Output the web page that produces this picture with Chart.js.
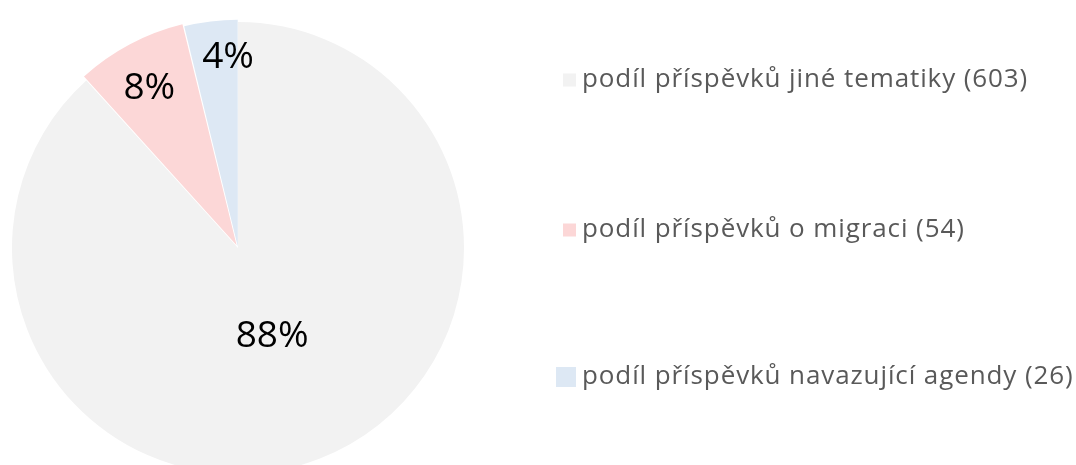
<!DOCTYPE html>
<html>
<head>
<meta charset="utf-8">
<script src="https://cdn.jsdelivr.net/npm/chart.js@4.4.1/dist/chart.umd.min.js"></script>
<style>
  html, body { margin: 0; padding: 0; background: #fff; overflow: hidden; }
  .chart-wrap { position: relative; width: 1076px; height: 465px; }
</style>
</head>
<body>
<div class="chart-wrap">
  <canvas id="myChart"></canvas>
</div>
<script>
// data
const labels = [
  'podíl příspěvků jiné tematiky (603)',
  'podíl příspěvků o migraci (54)',
  'podíl příspěvků navazující agendy (26)'
];
const counts = [603, 54, 26];
const sliceColors = ['#f2f2f2', '#fcd7d7', '#dde8f4'];
const explode = [0, 12, 5];

// percentage labels drawn inside each slice
const pctLabels = {
  id: 'pctLabels',
  afterDatasetsDraw(chart, args, opts) {
    const { ctx } = chart;
    const meta = chart.getDatasetMeta(0);
    const total = counts.reduce((a, b) => a + b, 0);
    ctx.save();
    ctx.font = opts.font;
    ctx.fillStyle = opts.color;
    ctx.textAlign = 'center';
    ctx.textBaseline = 'middle';
    meta.data.forEach((arc, i) => {
      const p = arc.getProps(['x', 'y', 'startAngle', 'endAngle', 'outerRadius'], true);
      const mid = (p.startAngle + p.endAngle) / 2;
      const r = p.outerRadius * opts.radial[i];
      const x = p.x + Math.cos(mid) * r + opts.nudgeX[i];
      const y = p.y + Math.sin(mid) * r;
      ctx.fillText(Math.round(counts[i] / total * 100) + '%', x, y);
    });
    ctx.restore();
  }
};

// legend on the right, spaced like the original
const sideLegend = {
  id: 'sideLegend',
  afterDraw(chart, args, opts) {
    const { ctx } = chart;
    const ds = chart.data.datasets[0];
    ctx.save();
    ctx.font = opts.font;
    ctx.letterSpacing = opts.spacing;
    ctx.textBaseline = 'middle';
    ctx.textAlign = 'left';
    chart.data.labels.forEach((lab, i) => {
      const y = opts.rows[i];
      const s = opts.boxes[i];
      ctx.fillStyle = ds.backgroundColor[i];
      ctx.fillRect(opts.textX - 6 - s, y - s / 2, s, s);
      ctx.fillStyle = opts.color;
      ctx.fillText(lab, opts.textX, y);
    });
    ctx.restore();
  }
};

const ctx = document.getElementById('myChart').getContext('2d');
new Chart(ctx, {
  type: 'pie',
  data: {
    labels,
    datasets: [
      {
        data: counts,
        backgroundColor: sliceColors,
        borderWidth: 0,
        offset: explode,
        clip: false
      }
    ]
  },
  options: {
    responsive: true,
    maintainAspectRatio: false,
    animation: false,
    radius: 226,
    layout: {
      padding: { left: 0, right: 600, top: 31, bottom: 0 }
    },
    plugins: {
      legend: { display: false },
      tooltip: { enabled: false },
      pctLabels: {
        font: '37px "Open Sans"',
        color: '#000',
        radial: [0.42, 0.8, 0.85],
        nudgeX: [0, -4, 13]
      },
      sideLegend: {
        font: '26px "Open Sans"',
        spacing: '0.9px',
        color: '#595959',
        textX: 582,
        rows: [80, 230, 377],
        boxes: [13, 13, 20]
      }
    }
  },
  plugins: [pctLabels, sideLegend]
});
</script>
</body>
</html>
